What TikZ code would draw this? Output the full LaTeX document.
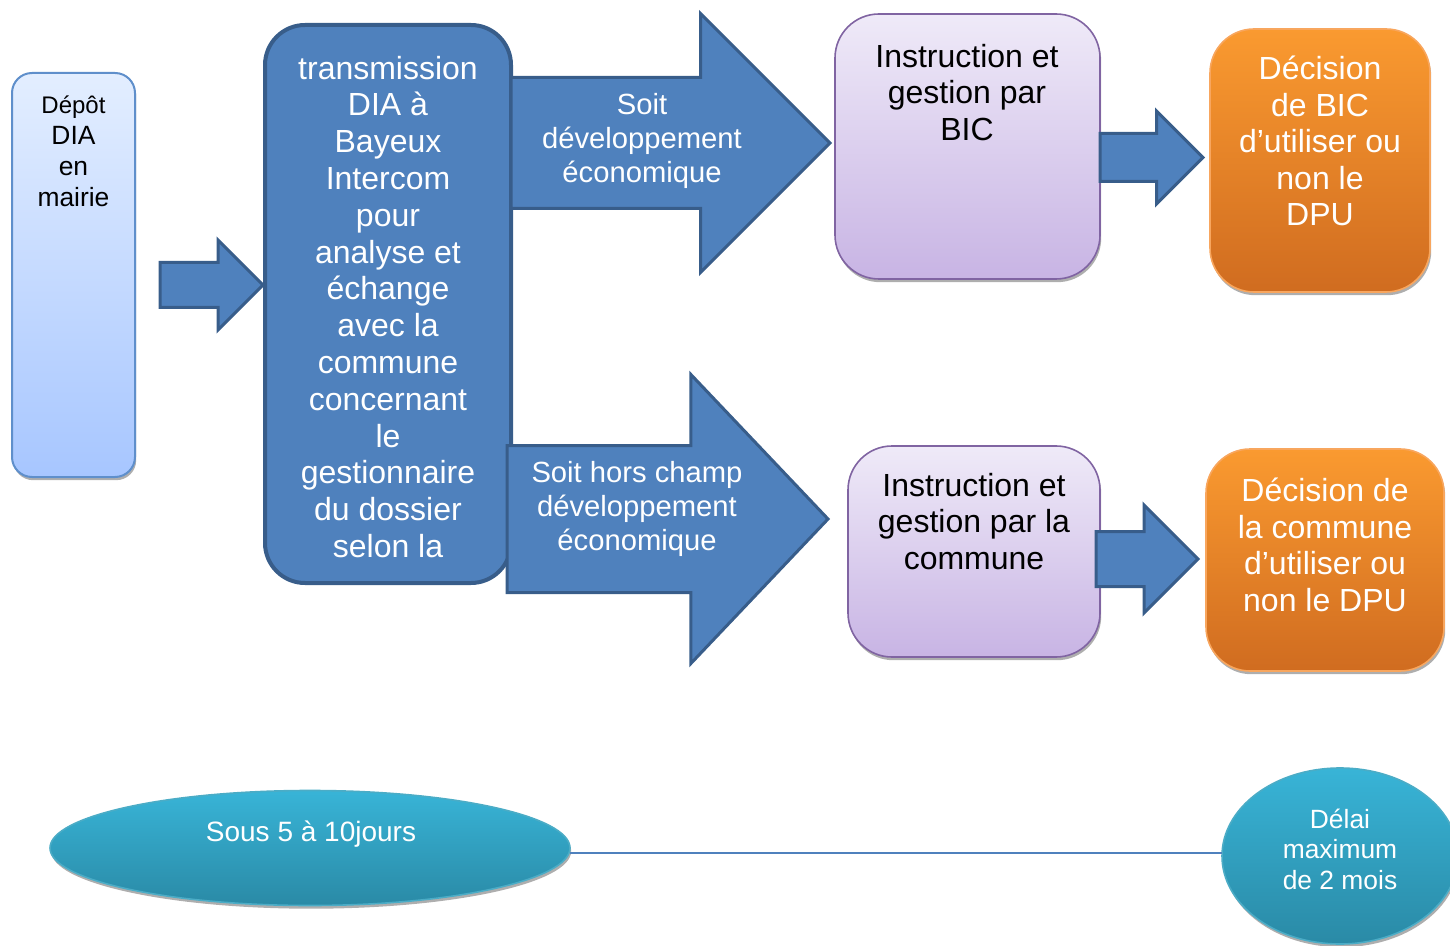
\documentclass[tikz,border=0pt]{standalone}
\usepackage{fontspec}
\setmainfont{Liberation Sans}
\usetikzlibrary{shapes.geometric,shapes.arrows,shadows}
\definecolor{blueFill}{HTML}{4F81BD}
\definecolor{blueLine}{HTML}{385D8A}
\definecolor{depotTop}{HTML}{E3EEFF}
\definecolor{depotBot}{HTML}{A7C6FF}
\definecolor{depotLine}{HTML}{5F8FCB}
\definecolor{purpTop}{HTML}{EFEAF8}
\definecolor{purpBot}{HTML}{C8B4E4}
\definecolor{purpLine}{HTML}{8064A2}
\definecolor{orTop}{HTML}{FA9A30}
\definecolor{orBot}{HTML}{D06C20}
\definecolor{orLine}{HTML}{F8A65E}
\definecolor{cyTop}{HTML}{38B4D7}
\definecolor{cyBot}{HTML}{2A8AA6}
\definecolor{cyLine}{HTML}{4BACC6}
\begin{document}
\begin{tikzpicture}[x=0.5pt,y=-0.5pt,
  softshadow/.style={drop shadow={shadow xshift=0.6pt,shadow yshift=-1.6pt,fill=black!45,opacity=0.7}},
  boxbase/.style={rectangle,inner sep=0pt,outer sep=0pt},
  depotbox/.style={boxbase,rounded corners=10pt,draw=depotLine,line width=1pt,top color=depotTop,bottom color=depotBot,softshadow},
  transbox/.style={boxbase,rounded corners=20pt,draw=blueLine,line width=2pt,fill=blueFill},
  purpbox/.style={boxbase,rounded corners=22pt,draw=purpLine,line width=0.8pt,top color=purpTop,bottom color=purpBot,softshadow},
  orbox/.style={boxbase,rounded corners=22pt,draw=orLine,line width=0.8pt,top color=orTop,bottom color=orBot,softshadow},
  cyell/.style={ellipse,inner sep=0pt,outer sep=0pt,draw=cyLine,line width=0.8pt,top color=cyTop,bottom color=cyBot,softshadow},
  blockarrow/.style={single arrow,draw=blueLine,fill=blueFill,line width=1.5pt,inner xsep=0pt,outer sep=0pt,minimum width=0pt,single arrow tip angle=90,anchor=tail},
  txt/.style={inner sep=0pt,outer sep=0pt,align=center,anchor=north},
  conn/.style={draw=blueFill,line width=1pt}
]
\useasboundingbox (0,0) rectangle (1450,946);
\clip (0,0) rectangle (1450,946);

% boxes
\node[depotbox,minimum width=61.5pt,minimum height=202pt] (depot) at (73.5,275) {};
\node[txt,font=\fontsize{13.2}{15.5}\selectfont] (depottxt) at (73.5,96) {{\fontsize{12}{15.5}\selectfont Dépôt}\\DIA\\en\\mairie};

\node[blockarrow,inner ysep=10.5pt,single arrow head extend=11.25pt,minimum height=51.5pt] (a1) at (160,285) {};

\node[transbox,minimum width=123pt,minimum height=279pt] (trans) at (388,304) {};
\node[txt,text=white,font=\fontsize{16}{18.4}\selectfont] (transtxt) at (388,56) {transmission\\DIA à\\Bayeux\\Intercom\\pour\\analyse et\\échange\\avec la\\commune\\concernant\\le\\gestionnaire\\du dossier\\selon la};

\node[blockarrow,inner ysep=32pt,single arrow head extend=32pt,minimum height=159.5pt] (a2) at (trans.east |- 0,143) {};
\node[txt,text=white,font=\fontsize{14.6}{17}\selectfont] (a2txt) at (642,93) {Soit\\développement\\économique};

\node[blockarrow,inner ysep=36pt,single arrow head extend=35.5pt,single arrow tip angle=93,minimum height=160.5pt] (a3) at (507,519) {};
\node[txt,text=white,font=\fontsize{14.6}{17}\selectfont] (a3txt) at (637,461) {Soit hors champ\\développement\\économique};

\node[purpbox,minimum width=132.5pt,minimum height=132.5pt] (p1) at (967.5,146.5) {};
\node[txt,font=\fontsize{16}{18.25}\selectfont] (p1txt) at (967,44) {Instruction et\\gestion par\\BIC};

\node[blockarrow,inner ysep=11.25pt,single arrow head extend=11.25pt,minimum height=51.5pt] (a4) at (p1.east |- 0,157.5) {};

\node[orbox,minimum width=110pt,minimum height=131.5pt] (o1) at (1320,160.5) {};
\node[txt,text=white,font=\fontsize{16}{18.3}\selectfont] (o1txt) at (1320,56) {Décision\\de BIC\\d’utiliser ou\\non le\\DPU};

\node[purpbox,minimum width=126pt,minimum height=105.5pt] (p2) at (974,551.5) {};
\node[txt,font=\fontsize{16}{18.25}\selectfont] (p2txt) at (974,473) {Instruction et\\gestion par la\\commune};

\node[blockarrow,inner ysep=13pt,single arrow head extend=13.25pt,minimum height=51pt] (a5) at (1096,559) {};

\node[orbox,minimum width=119pt,minimum height=111pt] (o2) at (1325,560) {};
\node[txt,text=white,font=\fontsize{16}{18.3}\selectfont] (o2txt) at (1325,478) {Décision de\\la commune\\d’utiliser ou\\non le DPU};

% timeline
\node[cyell,minimum width=260pt,minimum height=57.5pt] (e1) at (310,848) {};
\node[cyell,minimum width=118pt,minimum height=88pt] (e2) at (1340,856) {};
\draw[conn] (e1.east |- 0,853) -- (e2.west |- 0,853);
\node[txt,text=white,font=\fontsize{14}{16}\selectfont] (e1txt) at (311,821) {Sous 5 à 10jours};
\node[txt,text=white,font=\fontsize{13.2}{15.25}\selectfont] (e2txt) at (1340,809) {Délai\\maximum\\de 2 mois};
\end{tikzpicture}
\end{document}
